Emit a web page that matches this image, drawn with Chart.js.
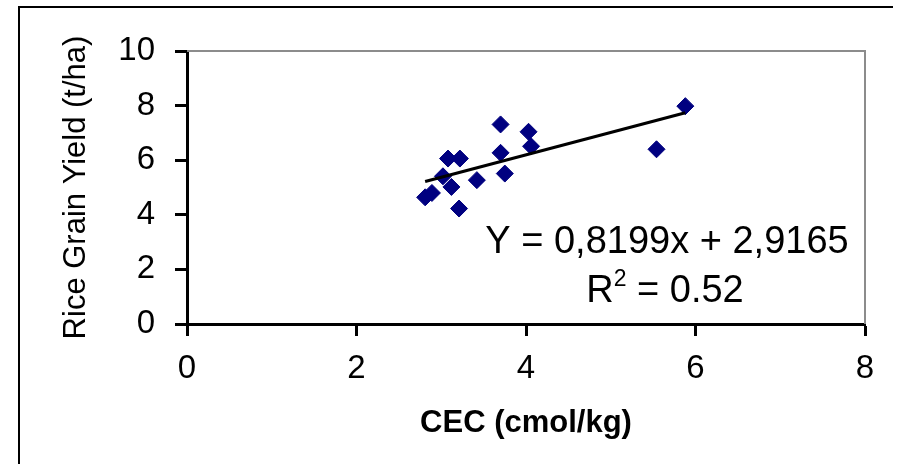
<!DOCTYPE html>
<html>
<head>
<meta charset="utf-8">
<script src="https://cdn.jsdelivr.net/npm/chart.js@4"></script>
<style>
  html, body { margin: 0; padding: 0; background: #fff; }
  #wrap { width: 899px; height: 464px; }
</style>
</head>
<body>
<div id="wrap"><canvas id="cecChart" width="899" height="464"></canvas></div>
<script>
// CEC (cmol/kg) vs rice grain yield (t/ha)
const cecValues = [3.70, 4.03, 5.88, 4.06, 5.54, 3.70, 3.08, 3.22, 3.75, 3.02, 3.42, 3.12, 2.89, 2.81, 3.21];
const yieldValues = [7.31, 7.04, 7.98, 6.51, 6.40, 6.27, 6.06, 6.06, 5.51, 5.41, 5.27, 5.02, 4.80, 4.64, 4.23];
const trendX = [2.81, 5.88];
const trendY = [5.22, 7.74];
const xTicks = [0, 2, 4, 6, 8];
const yTicks = [0, 2, 4, 6, 8, 10];
const equationText = 'Y = 0,8199x + 2,9165';
const r2Text = '0.52';

const FONT = "'Liberation Sans', Arial, sans-serif";

const points = cecValues.map(function (x, i) { return { x: x, y: yieldValues[i] }; });
const trend = trendX.map(function (x, i) { return { x: x, y: trendY[i] }; });

// frame, plot box and the regression label
const decorations = {
  id: 'decorations',
  beforeDraw: function (chart) {
    const ctx = chart.ctx;
    ctx.save();
    ctx.fillStyle = '#fff';
    ctx.fillRect(0, 0, chart.width, chart.height);
    ctx.strokeStyle = '#000';
    ctx.lineWidth = 2;
    ctx.beginPath();
    ctx.moveTo(19, 464);
    ctx.lineTo(19, 7);
    ctx.lineTo(893, 7);
    ctx.stroke();
    ctx.restore();
  },
  afterDatasetsDraw: function (chart) {
    const ctx = chart.ctx;
    const a = chart.chartArea;
    ctx.save();
    ctx.strokeStyle = '#8c8c8c';
    ctx.lineWidth = 2;
    ctx.beginPath();
    ctx.moveTo(a.left, a.top);
    ctx.lineTo(a.right, a.top);
    ctx.lineTo(a.right, a.bottom);
    ctx.stroke();

    ctx.fillStyle = '#000';
    ctx.textBaseline = 'middle';
    ctx.font = '38px ' + FONT;
    ctx.textAlign = 'center';
    ctx.fillText(equationText, 667, 243);

    // R² = 0.52 with a raised 2
    const rest = ' = ' + r2Text;
    const wR = ctx.measureText('R').width;
    const wRest = ctx.measureText(rest).width;
    ctx.font = '23px ' + FONT;
    const wSup = ctx.measureText('2').width;
    const total = wR + wSup + wRest;
    let x = 665 - total / 2;
    ctx.textAlign = 'left';
    ctx.font = '38px ' + FONT;
    ctx.fillText('R', x, 292);
    x += wR;
    ctx.font = '23px ' + FONT;
    ctx.fillText('2', x, 280);
    x += wSup;
    ctx.font = '38px ' + FONT;
    ctx.fillText(rest, x, 292);
    ctx.restore();
  }
};

new Chart(document.getElementById('cecChart'), {
  type: 'scatter',
  data: {
    datasets: [
      {
        label: 'Yield',
        data: points,
        pointStyle: 'rectRot',
        pointRadius: 8.5,
        pointBorderWidth: 1,
        backgroundColor: '#000080',
        borderColor: '#000080',
        order: 2
      },
      {
        label: 'Trend',
        type: 'line',
        data: trend,
        borderColor: '#000',
        borderWidth: 3,
        pointRadius: 0,
        fill: false,
        order: 1
      }
    ]
  },
  options: {
    responsive: false,
    animation: false,
    devicePixelRatio: 1,
    layout: { padding: { left: 0, top: 51, right: 34, bottom: 0 } },
    plugins: {
      legend: { display: false },
      tooltip: { enabled: false }
    },
    scales: {
      x: {
        type: 'linear',
        min: 0,
        max: 8,
        afterBuildTicks: function (scale) {
          scale.ticks = xTicks.map(function (v) { return { value: v }; });
        },
        afterFit: function (scale) { scale.height = 140; },
        grid: {
          drawOnChartArea: false,
          drawTicks: true,
          tickLength: 12,
          tickWidth: 3,
          tickColor: '#000'
        },
        border: { display: true, color: '#000', width: 3 },
        ticks: {
          color: '#000',
          padding: 13,
          font: { family: FONT, size: 33 }
        },
        title: {
          display: true,
          text: 'CEC (cmol/kg)',
          color: '#000',
          font: { family: FONT, size: 31, weight: 'bold' },
          padding: { top: 0, bottom: 22 }
        }
      },
      y: {
        type: 'linear',
        min: 0,
        max: 10,
        afterBuildTicks: function (scale) {
          scale.ticks = yTicks.map(function (v) { return { value: v }; });
        },
        afterFit: function (scale) { scale.width = 187; },
        grid: {
          drawOnChartArea: false,
          drawTicks: true,
          tickLength: 12,
          tickWidth: 3,
          tickColor: '#000'
        },
        border: { display: true, color: '#000', width: 3 },
        ticks: {
          color: '#000',
          padding: 20,
          font: { family: FONT, size: 33 }
        },
        title: {
          display: true,
          text: 'Rice Grain Yield (t/ha)',
          color: '#000',
          font: { family: FONT, size: 31 },
          padding: { top: 58, bottom: 0 }
        }
      }
    }
  },
  plugins: [decorations]
});
</script>
</body>
</html>
